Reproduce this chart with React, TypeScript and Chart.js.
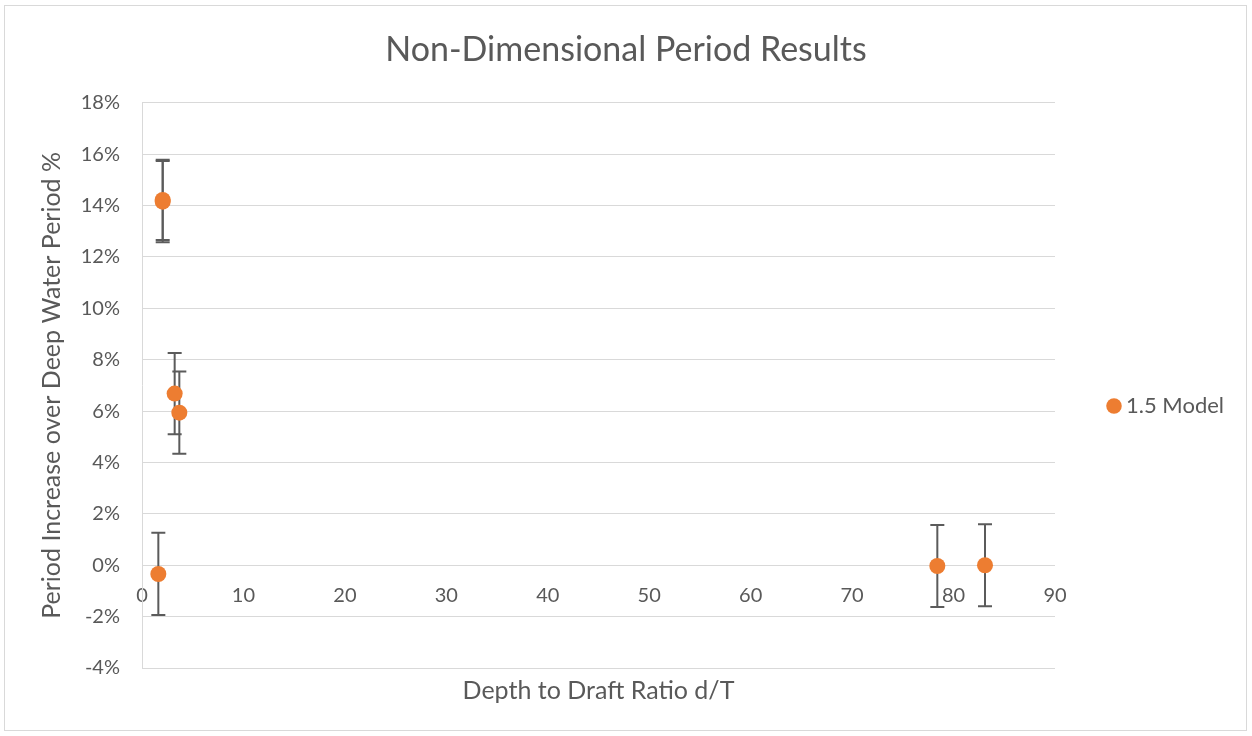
import React, { useEffect, useRef } from 'react';
import { Chart, registerables } from 'chart.js';

Chart.register(...registerables);

// ---- data ----
const chartTitle = 'Non-Dimensional Period Results';
const xAxisTitle = 'Depth to Draft Ratio d/T';
const yAxisTitle = 'Period Increase over Deep Water Period %';
const seriesName = '1.5 Model';

const xValues = [2.04, 2.04, 3.22, 3.68, 1.61, 78.4, 83.1];
const yValues = [14.22, 14.15, 6.68, 5.94, -0.34, -0.03, 0.0];
const errValues = [1.56, 1.58, 1.58, 1.6, 1.6, 1.6, 1.6];

const xMin = 0;
const xMax = 90;
const xStep = 10;
const yMin = -4;
const yMax = 18;
const yStep = 2;

const FONT = 'Lato';
const TEXT = '#595959';
const GRID = '#d9d9d9';
const ORANGE = '#ED7D31';

const errorBarPlugin = {
  id: 'errorBars',
  beforeDatasetsDraw(chart: any) {
    const xs = chart.scales.x;
    const ys = chart.scales.y;
    const ctx = chart.ctx;
    ctx.save();
    ctx.strokeStyle = '#5b5b5b';
    ctx.lineWidth = 2;
    const cap = 7;
    xValues.forEach((xv, i) => {
      const px = xs.getPixelForValue(xv);
      const top = ys.getPixelForValue(yValues[i] + errValues[i]);
      const bot = ys.getPixelForValue(yValues[i] - errValues[i]);
      ctx.beginPath();
      ctx.moveTo(px, top);
      ctx.lineTo(px, bot);
      ctx.moveTo(px - cap, top);
      ctx.lineTo(px + cap, top);
      ctx.moveTo(px - cap, bot);
      ctx.lineTo(px + cap, bot);
      ctx.stroke();
    });
    ctx.restore();
  },
};

function ChartView() {
  const ref = useRef<HTMLCanvasElement | null>(null);
  useEffect(() => {
    document.body.style.margin = '0';
    if (!ref.current) return;
    const chart = new Chart(ref.current, {
      type: 'scatter',
      data: {
        datasets: [
          {
            label: seriesName,
            data: xValues.map((x, i) => ({ x, y: yValues[i] })),
            backgroundColor: ORANGE,
            borderColor: ORANGE,
            pointRadius: 8,
            pointHoverRadius: 8,
            borderWidth: 0,
            pointStyle: 'circle',
          },
        ],
      },
      options: {
        animation: false,
        responsive: false,
        layout: { padding: 0 },
        plugins: {
          title: {
            display: true,
            text: chartTitle,
            color: TEXT,
            font: { family: FONT, size: 34, weight: 'normal' },
            padding: { top: 30, bottom: 32 },
          },
          legend: {
            display: true,
            position: 'right',
            fullSize: false,
            title: {
              display: true,
              text: ' ',
              font: { family: FONT, size: 11 },
              padding: { top: 14, bottom: 14 },
            },
            labels: {
              usePointStyle: true,
              pointStyle: 'circle',
              boxWidth: 2,
              boxHeight: 11,
              padding: 58,
              color: TEXT,
              font: { family: FONT, size: 22 },
            },
          },
          tooltip: { enabled: false },
        },
        scales: {
          x: {
            type: 'linear',
            position: { y: 0 },
            min: xMin,
            max: xMax,
            ticks: {
              stepSize: xStep,
              padding: 18,
              color: TEXT,
              font: { family: FONT, size: 20 },
            },
            grid: { display: false, drawTicks: false },
            border: { display: false },
          },
          xt: {
            type: 'linear',
            axis: 'x',
            position: 'bottom',
            min: xMin,
            max: xMax,
            ticks: { display: false },
            grid: { display: false, drawTicks: false },
            border: { display: false },
            title: {
              display: true,
              text: xAxisTitle,
              color: TEXT,
              font: { family: FONT, size: 25 },
              padding: { top: 8, bottom: 30 },
            },
          },
          y: {
            type: 'linear',
            position: 'left',
            min: yMin,
            max: yMax,
            ticks: {
              stepSize: yStep,
              padding: 22,
              color: TEXT,
              font: { family: FONT, size: 20 },
              callback: (v: any) => `${v}%`,
            },
            grid: { color: GRID, lineWidth: 1, drawTicks: false },
            border: { color: GRID, width: 1 },
            title: {
              display: true,
              text: yAxisTitle,
              color: TEXT,
              font: { family: FONT, size: 25 },
              padding: { top: 37, bottom: 0 },
            },
            afterFit: (s: any) => {
              s.width = 142;
            },
          },
          spacer: {
            type: 'linear',
            axis: 'y',
            position: 'right',
            weight: 2000,
            ticks: { display: false },
            grid: { display: false, drawTicks: false },
            border: { display: false },
            afterFit: (s: any) => {
              const lw = s.chart.legend ? s.chart.legend.width : 177;
              s.width = Math.max(0, 1252 - 1055 - lw);
            },
          },
        },
      } as any,
      plugins: [errorBarPlugin],
    });
    return () => chart.destroy();
  }, []);
  return (
    <div style={{ position: 'relative', width: 1252, height: 736, background: '#fff' }}>
      <canvas ref={ref} width={1252} height={736} style={{ display: 'block', width: 1252, height: 736 }} />
      <div
        style={{
          position: 'absolute',
          left: 4,
          top: 5,
          width: 1243,
          height: 726,
          border: '1px solid #d9d9d9',
          boxSizing: 'border-box',
          pointerEvents: 'none',
        }}
      />
    </div>
  );
}

export default function App() {
  return <ChartView />;
}
